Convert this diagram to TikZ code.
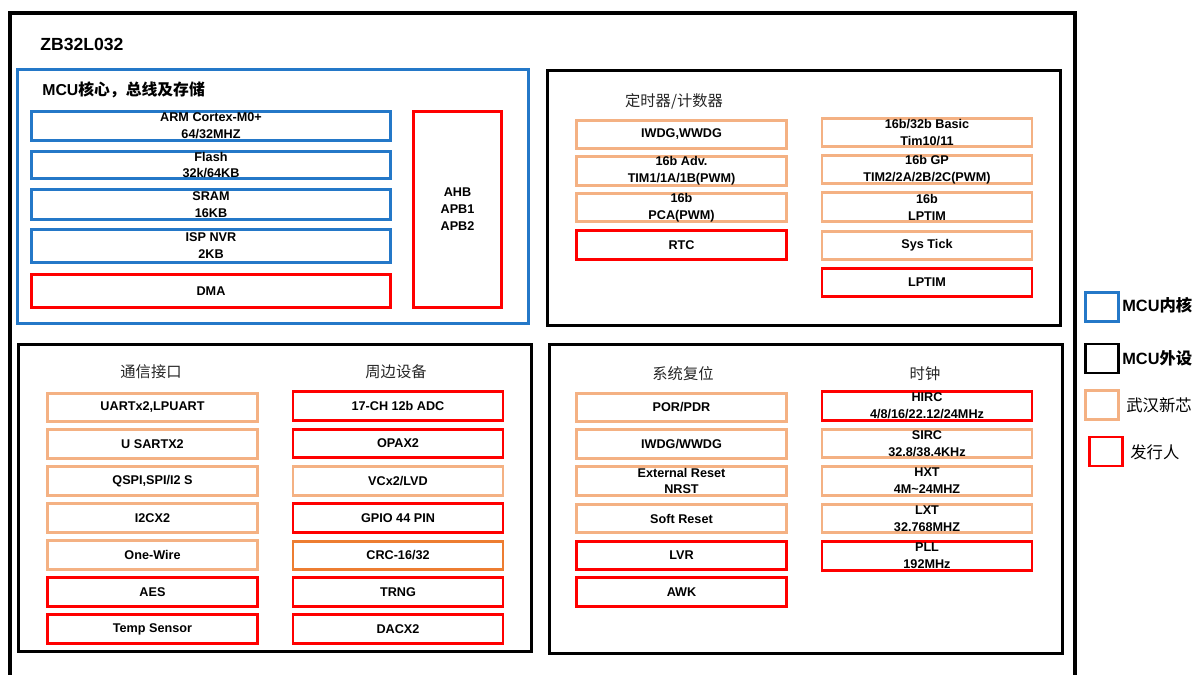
\documentclass[tikz,border=0pt]{standalone}
\usepackage{fontspec}
\setmainfont{Liberation Sans}
\newfontfamily\cjk{Noto Sans CJK SC}
\usetikzlibrary{positioning}
\definecolor{coreblue}{HTML}{2478C8}
\definecolor{xmcorange}{HTML}{F4B183}
\definecolor{crcorange}{HTML}{ED7D31}
\tikzset{
	blk/.style={draw,line width=1.6pt,fill=white,inner sep=0pt,align=center,font=\fontsize{7.2}{9.6}\selectfont\bfseries},
	core/.style={blk,draw=coreblue},
	xmc/.style={blk,draw=xmcorange},
	iss/.style={blk,draw=red},
	cell/.style={minimum width=4.2cm,minimum height=0.57cm},
	region/.style={draw,line width=1.6pt,inner sep=0pt},
	sect/.style={font=\fontsize{8.7}{10}\selectfont\cjk,text=black!85},
	key/.style={draw,line width=1.6pt,minimum width=0.66cm,minimum height=0.58cm,inner sep=0pt},
	keytext/.style={anchor=west,inner sep=0pt,font=\fontsize{9.3}{11}\selectfont},
}
\begin{document}
\begin{tikzpicture}[x=0.02cm,y=-0.02cm]
	\useasboundingbox (0,0) rectangle (1195,675);
	\draw[line width=1.8pt] (10,675) -- (10,13) -- (1075,13) -- (1075,675);
	\node[anchor=west,inner sep=0pt,font=\fontsize{10}{12}\selectfont\bfseries] (chip) at (40,44) {ZB32L032};
	% MCU core, bus and memory
	\node[region,draw=coreblue,minimum width=10.21cm,minimum height=5.08cm] (mcu) at (273,196.5) {};
	\node[anchor=west,inner sep=0pt,font=\fontsize{9}{11}\selectfont\bfseries] (mcutitle) at (42,90) {MCU{\cjk 核心，总线及存储}};
	\node[core,minimum width=7.18cm,minimum height=0.58cm] (arm) at (211,126) {ARM Cortex-M0+\\64/32MHZ};
	\node[core,minimum width=7.18cm,minimum height=0.55cm] (flash) at (211,165) {Flash\\32k/64KB};
	\node[core,minimum width=7.18cm,minimum height=0.6cm] (sram) at (211,204.5) {SRAM\\16KB};
	\node[core,minimum width=7.18cm,minimum height=0.66cm] (isp) at (211,246) {ISP NVR\\2KB};
	\node[iss,minimum width=7.18cm,minimum height=0.66cm] (dma) at (211,291) {DMA};
	\node[iss,minimum width=1.76cm,minimum height=3.92cm] (bus) at (457.5,209.5) {AHB\\APB1\\APB2};
	% timers
	\node[region,minimum width=10.26cm,minimum height=5.1cm] (timers) at (804,198) {};
	\node[sect] (timtitle) at (674,101) {定时器/计数器};
	\node[xmc,cell] (wdg) at (681.5,134.5) {IWDG,WWDG};
	\node[xmc,cell] (adv) at (681.5,171) {16b Adv.\\TIM1/1A/1B(PWM)};
	\node[xmc,cell] (pca) at (681.5,207.5) {16b\\PCA(PWM)};
	\node[iss,cell] (rtc) at (681.5,245) {RTC};
	\node[xmc,cell] (basic) at (927,132.5) {16b/32b Basic\\Tim10/11};
	\node[xmc,cell] (gp) at (927,169.5) {16b GP\\TIM2/2A/2B/2C(PWM)};
	\node[xmc,cell] (lptimx) at (927,207) {16b\\LPTIM};
	\node[xmc,cell] (systick) at (927,245.5) {Sys Tick};
	\node[iss,cell] (lptim) at (927,282.5) {LPTIM};
	% interfaces and peripherals
	\node[region,minimum width=10.27cm,minimum height=6.14cm] (periph) at (275,498) {};
	\node[sect] (commtitle) at (151,372) {通信接口};
	\node[sect] (devtitle) at (396,372) {周边设备};
	\node[xmc,cell] (uart) at (152.5,407.5) {UARTx2,LPUART};
	\node[xmc,cell] (usart) at (152.5,444) {U SARTX2};
	\node[xmc,cell] (spi) at (152.5,481) {QSPI,SPI/I2 S};
	\node[xmc,cell] (iic) at (152.5,518) {I2CX2};
	\node[xmc,cell] (onewire) at (152.5,555) {One-Wire};
	\node[iss,cell] (aes) at (152.5,592) {AES};
	\node[iss,cell] (temp) at (152.5,629) {Temp Sensor};
	\node[iss,cell] (adc) at (398,406) {17-CH 12b ADC};
	\node[iss,cell] (opa) at (398,443.5) {OPAX2};
	\node[xmc,cell] (vc) at (398,481) {VCx2/LVD};
	\node[iss,cell] (gpio) at (398,518) {GPIO 44 PIN};
	\node[blk,draw=crcorange,cell] (crc) at (398,555.5) {CRC-16/32};
	\node[iss,cell] (trng) at (398,592) {TRNG};
	\node[iss,cell] (dac) at (398,629) {DACX2};
	% reset and clock
	\node[region,minimum width=10.26cm,minimum height=6.18cm] (sysclk) at (806,499) {};
	\node[sect] (rsttitle) at (683,374) {系统复位};
	\node[sect] (clktitle) at (925,374) {时钟};
	\node[xmc,cell] (por) at (681.5,407.5) {POR/PDR};
	\node[xmc,cell] (rstwdg) at (681.5,444) {IWDG/WWDG};
	\node[xmc,cell] (nrst) at (681.5,481) {External Reset\\NRST};
	\node[xmc,cell] (soft) at (681.5,518.5) {Soft Reset};
	\node[iss,cell] (lvr) at (681.5,555.5) {LVR};
	\node[iss,cell] (awk) at (681.5,592) {AWK};
	\node[iss,cell] (hirc) at (927,406) {HIRC\\4/8/16/22.12/24MHz};
	\node[xmc,cell] (sirc) at (927,443.5) {SIRC\\32.8/38.4KHz};
	\node[xmc,cell] (hxt) at (927,481) {HXT\\4M\textasciitilde24MHZ};
	\node[xmc,cell] (lxt) at (927,518.5) {LXT\\32.768MHZ};
	\node[iss,cell] (pll) at (927,556) {PLL\\192MHz};
	% legend
	\node[key,draw=coreblue] (keycore) at (1102,307) {};
	\node[keytext,font=\fontsize{9.3}{11}\selectfont\bfseries] (keycoretext) at (1122,305) {MCU{\cjk 内核}};
	\node[key] (keyperiph) at (1102,358.5) {};
	\node[keytext,font=\fontsize{9.3}{11}\selectfont\bfseries] (keyperiphtext) at (1122,358) {MCU{\cjk 外设}};
	\node[key,draw=xmcorange] (keyxmc) at (1102,405) {};
	\node[keytext,font=\fontsize{9.3}{11}\selectfont\cjk] (keyxmctext) at (1126,405) {武汉新芯};
	\node[key,draw=red] (keyiss) at (1106,451.5) {};
	\node[keytext,font=\fontsize{9.3}{11}\selectfont\cjk] (keyisstext) at (1130,452) {发行人};
\end{tikzpicture}
\end{document}
